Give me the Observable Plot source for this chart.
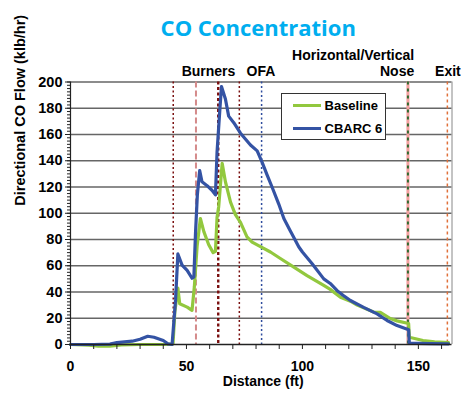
<!DOCTYPE html>
<html><head><meta charset="utf-8">
<script src="https://cdn.jsdelivr.net/npm/d3@7"></script>
<script src="https://cdn.jsdelivr.net/npm/@observablehq/plot@0.6"></script>
<style>
body{margin:0;background:#fff;}
#wrap{position:relative;width:461px;height:394px;}
#legend{position:absolute;left:280.5px;top:93px;width:103px;height:45px;border:1px solid #333;background:#fff;
 font-family:'Liberation Sans',Arial,sans-serif;font-weight:bold;font-size:13px;color:#000;}
.row{position:absolute;left:11px;height:16px;display:flex;align-items:center;}
.sw{width:28px;height:3px;margin-right:4px;}
</style>
</head><body><div id="wrap"><div id="chart"></div><div id="legend"></div></div>
<script>
const seriesNames = ["Baseline", "CBARC 6"];
const seriesColors = ["#92C83E", "#3453A4"];

const baselineDist = [0, 8, 12, 17, 22, 30, 40, 44.2, 45, 46.3, 47.1, 50.3, 52.4, 53.4, 54.6, 56, 57.5, 59.6, 61.5, 62.5, 63.2, 63.9, 65.4, 66.8, 69, 71.1, 73.3, 76.1, 78.3, 81.9, 86.2, 90.5, 96.3, 102, 109.2, 112, 116.4, 120.7, 123.6, 130.7, 133.6, 137.9, 140.8, 145.8, 146.1, 152, 157, 163];
const baselineFlow = [0, -0.5, -1.2, -1.2, -0.3, 0, 0, 0.5, 25, 43, 31, 28.5, 26, 44, 75, 96, 86, 76, 70, 71, 97, 105, 138, 124, 108.5, 99, 93, 82, 78, 74.5, 70.5, 65.5, 59, 52.5, 45, 42, 36, 33, 30, 24.7, 24.5, 19.8, 18, 16, 5.5, 3, 2, 1.5];

const cbarcDist = [0, 10, 17, 20, 26.6, 30, 33.3, 36, 40, 42, 43.8, 45.3, 46.3, 48.1, 50.3, 52.4, 53.2, 53.9, 54.7, 55.7, 56.7, 58.9, 61, 62.5, 63.2, 64.4, 65.1, 66.8, 68.2, 70.4, 73.3, 77.6, 80.5, 82.6, 84.8, 86.9, 89.8, 92, 94.8, 96.3, 98.4, 100, 104.2, 109.2, 112, 115, 117.5, 120.7, 126.4, 132.2, 136.5, 140.8, 145.8, 146.1, 150, 155, 163];
const cbarcFlow = [0, 0, 0.3, 1.5, 2.5, 4, 6.3, 5.5, 3, 0.5, 0, 34, 69, 60.5, 56.5, 50.5, 51.5, 85, 114, 132.5, 124, 121, 117.5, 114, 147, 179, 196.5, 187, 174, 169, 161, 152, 147.5, 139, 129, 120, 107, 96, 86.5, 81.5, 74.5, 70.5, 61.5, 50, 46.5, 41, 37.5, 33.5, 28.3, 23.3, 18.3, 14.4, 11.3, 1, 0.8, 0.6, 0.5];

const xTicks = [0, 50, 100, 150];
const yTicks = [0, 20, 40, 60, 80, 100, 120, 140, 160, 180, 200];
const xDomain = [0, 164.5];
const yDomain = [0, 200];

const markerDist = [44.3, 54.1, 63.7, 72.8, 82.4, 145.5, 162.5];
const regionLabels = ["Burners", "OFA", "Horizontal/Vertical\nNose", "Exit"];
const regionLabelDist = [59.5, 82.1, 148.2, 157.2];

const baseRows = baselineDist.map((d, i) => ({d, v: baselineFlow[i]}));
const cbarcRows = cbarcDist.map((d, i) => ({d, v: cbarcFlow[i]}));

const font = "'Liberation Sans', Arial, sans-serif";
const darkRed = "#7A0F0F";

const chart = Plot.plot({
  width: 461, height: 394,
  marginLeft: 70, marginRight: 9.5, marginTop: 81.5, marginBottom: 50,
  x: {domain: xDomain, label: null},
  y: {domain: yDomain, label: null},
  style: {fontFamily: font, fontWeight: "bold", fontSize: "14px", color: "#000", background: "#fff", overflow: "visible"},
  marks: [
    Plot.ruleY(yTicks.filter(v => v > 0), {stroke: "#666", strokeWidth: 1.5}),
    Plot.ruleX([xDomain[1]], {stroke: "#888", strokeWidth: 1}),
    Plot.ruleX([markerDist[0]], {stroke: darkRed, strokeWidth: 1.5, strokeDasharray: "2,2.5"}),
    Plot.ruleX([markerDist[1]], {stroke: "#D48A8A", strokeWidth: 2, strokeDasharray: "6,3"}),
    Plot.ruleX([markerDist[2]], {stroke: darkRed, strokeWidth: 2.4, strokeDasharray: "3,2.5"}),
    Plot.ruleX([markerDist[3]], {stroke: darkRed, strokeWidth: 1.5, strokeDasharray: "2,2.5"}),
    Plot.ruleX([markerDist[4]], {stroke: "#2E4C9E", strokeWidth: 1.5, strokeDasharray: "2,2.5"}),
    Plot.ruleX([markerDist[5]], {stroke: "#F4A0A0", strokeWidth: 3}),
    Plot.ruleX([markerDist[5]], {stroke: "#2E6B30", strokeWidth: 2, strokeDasharray: "3,4"}),
    Plot.ruleX([markerDist[6]], {stroke: "#E0703A", strokeWidth: 1.5, strokeDasharray: "3,3"}),
    Plot.line(baseRows, {x: "d", y: "v", stroke: seriesColors[0], strokeWidth: 3.2, strokeLinejoin: "round"}),
    Plot.line(cbarcRows, {x: "d", y: "v", stroke: seriesColors[1], strokeWidth: 3.2, strokeLinejoin: "round"}),
    Plot.ruleX([0], {stroke: "#222", strokeWidth: 1.2}),
    Plot.ruleY([0], {stroke: "#222", strokeWidth: 1.5}),
    Plot.axisY({ticks: d3.range(0, 200.1, 2.5), tickSize: 3, tickFormat: () => "", stroke: "#222"}),
    Plot.axisY({ticks: yTicks, tickSize: 5, tickPadding: 3, fontSize: 14.5, stroke: "#222"}),
    Plot.axisX({ticks: d3.range(0, 161, 10), tickSize: 5, tickPadding: 12, fontSize: 14,
      tickFormat: d => xTicks.includes(d) ? String(d) : "", stroke: "#222"}),
    Plot.text(["Distance (ft)"], {frameAnchor: "bottom", dy: 41, dx: 2, fontSize: 14, fontWeight: "bold"}),
    Plot.text(["Directional CO Flow (klb/hr)"], {frameAnchor: "left", rotate: -90, dx: -50, dy: -7.5, fontSize: 14.5, fontWeight: "bold"}),
    Plot.text(["CO Concentration"], {frameAnchor: "top", dy: -61.5, dx: -3, fontSize: 22, fontWeight: "bold",
      fill: "#00AEEF", fontFamily: "'Open Sans', 'Noto Sans', sans-serif"}),
    Plot.text([regionLabels[0], regionLabels[1]], {x: (d, i) => regionLabelDist[i], frameAnchor: "top", lineAnchor: "bottom", dy: -6.5, fontSize: 14, fontWeight: "bold"}),
    Plot.text([regionLabels[2]], {x: () => regionLabelDist[2], frameAnchor: "top", lineAnchor: "bottom", dy: -6.5, textAnchor: "end", lineHeight: 1.12, fontSize: 14, fontWeight: "bold"}),
    Plot.text([regionLabels[3]], {x: () => regionLabelDist[3], frameAnchor: "top", lineAnchor: "bottom", dy: -6.5, textAnchor: "start", fontSize: 14, fontWeight: "bold"})
  ]
});
document.getElementById("chart").appendChild(chart);

const legend = document.getElementById("legend");
seriesNames.forEach((name, i) => {
  const row = document.createElement("div");
  row.className = "row";
  row.style.top = (i === 0 ? 3.5 : 26.5) + "px";
  const sw = document.createElement("div");
  sw.className = "sw";
  sw.style.background = seriesColors[i];
  const label = document.createElement("span");
  label.textContent = name;
  row.appendChild(sw);
  row.appendChild(label);
  legend.appendChild(row);
});
</script>
</body></html>
